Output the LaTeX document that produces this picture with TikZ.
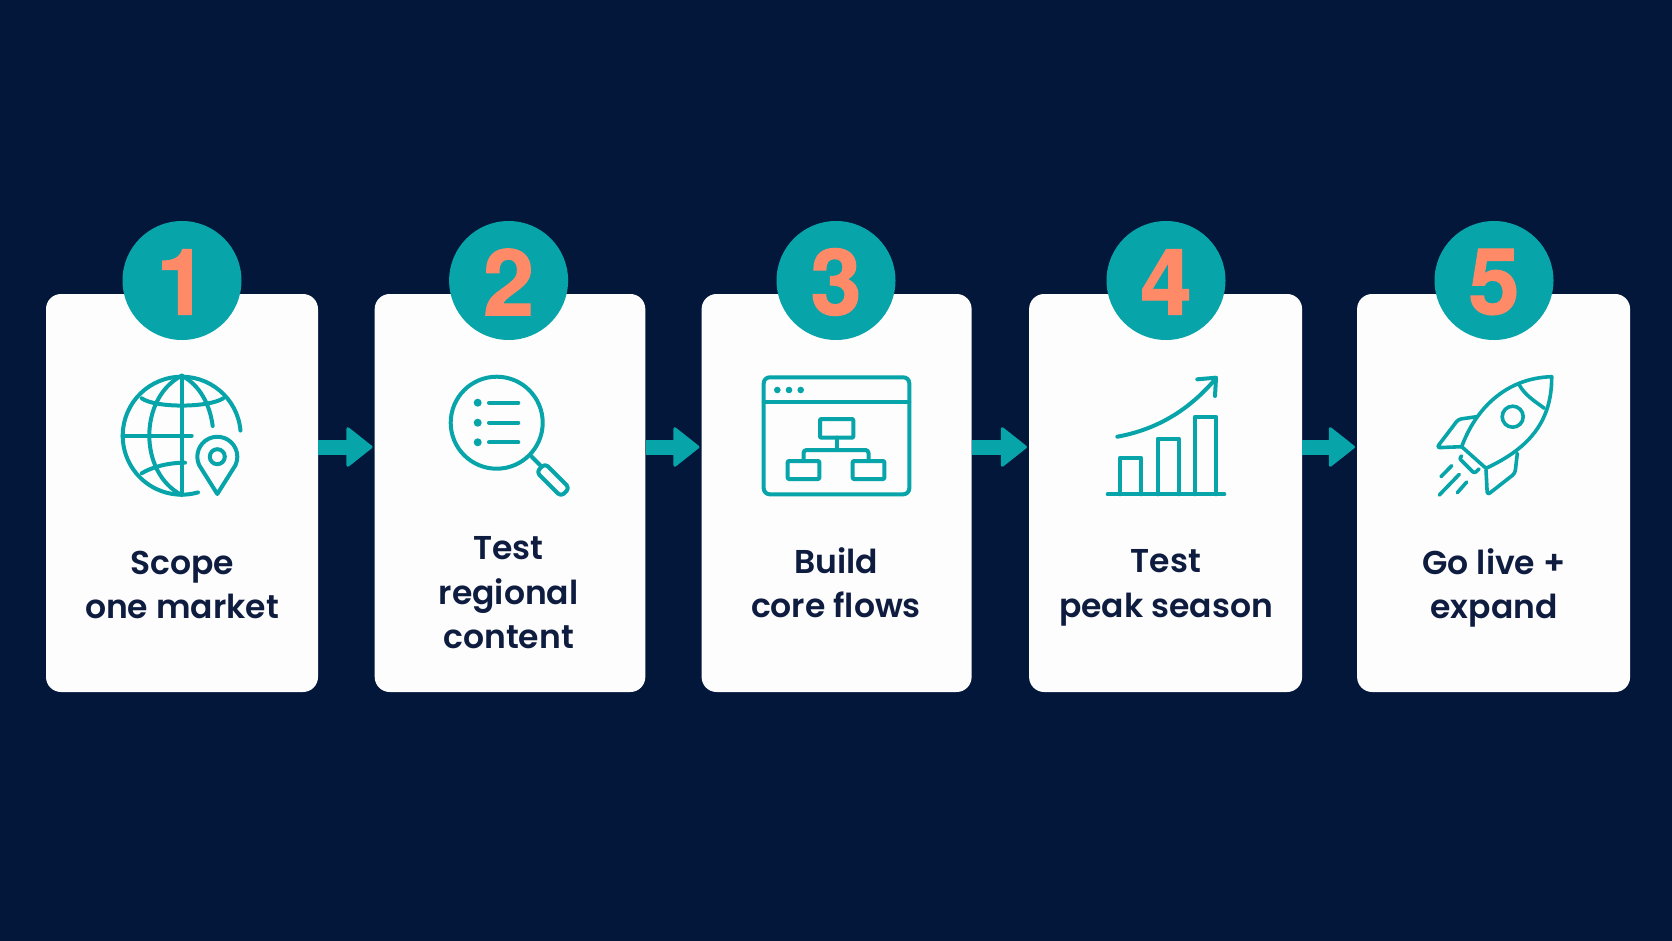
\documentclass[tikz,border=0pt]{standalone}
\usepackage{fontspec}
\usepackage{xcolor}
\usetikzlibrary{arrows.meta}
\setmainfont{Poppins}[UprightFont=* SemiBold]
\newfontfamily\digitfont{TeX Gyre Heros}[UprightFont=* Bold,FakeBold=1.2]
\definecolor{navybg}{HTML}{02173A}
\definecolor{tealmain}{HTML}{07A4A9}
\definecolor{coral}{HTML}{FF8A68}
\definecolor{inkblue}{HTML}{0E1C40}
\definecolor{cardwhite}{HTML}{FDFDFD}
\begin{document}
\begin{tikzpicture}[x=1pt,y=-1pt]

\tikzset{
  % one white panel per step
  card/.style={fill=cardwhite,rounded corners=15pt,minimum height=398pt,inner sep=0pt},
  badge/.style={circle,fill=tealmain,text=coral,minimum size=119pt,inner sep=0pt},
  numeral/.style={text=coral,inner sep=0pt,font=\digitfont\fontsize{92}{92}\selectfont},
  caption/.style={align=center,text=inkblue,inner sep=0pt,font=\fontsize{33}{44.4}\selectfont},
  icon/.style={draw=tealmain,line width=4pt,line cap=round,line join=round},
  thinicon/.style={icon,line width=3.6pt},
  dot/.style={fill=tealmain},
  flow/.style={draw=tealmain,line width=15pt,shorten >=2pt,-{Triangle[length=27pt,width=42pt,line width=3pt,round]}},
}
\fill[navybg] (0,0) rectangle (1672,941);
\useasboundingbox (0,0) rectangle (1672,941);

\path (182,493) node[card,minimum width=272pt] (card1) {}
      (510,493) node[card,minimum width=270.6pt] (card2) {}
      (836.6,493) node[card,minimum width=270pt] (card3) {}
      (1165.6,493) node[card,minimum width=273pt] (card4) {}
      (1493.6,493) node[card,minimum width=273pt] (card5) {};
\path (182,280.5) node[badge] (badge1) {}
      (508.6,280.5) node[badge] (badge2) {}
      (836,280.5) node[badge] (badge3) {}
      (1166,280.5) node[badge] (badge4) {}
      (1494,280.5) node[badge] (badge5) {};
\path (182,282) node[numeral] (num1) {1}
      (508.6,282) node[numeral] (num2) {2}
      (836,282) node[numeral] (num3) {3}
      (1166,282) node[numeral] (num4) {4}
      (1494,282) node[numeral] (num5) {5};
\path (182,585) node[caption] (text1) {Scope\\one market}
      (508.6,593) node[caption] (text2) {Test\\regional\\content}
      (836,583) node[caption] (text3) {Build\\core flows}
      (1166,588) node[caption] (text4) {Test\\peak season}
      (1494,588) node[caption] (text5) {Go live +\\expand};

\draw[flow] ([yshift=46pt]card1.east) -- ([yshift=46pt]card2.west);
\draw[flow] ([yshift=46pt]card2.east) -- ([yshift=46pt]card3.west);
\draw[flow] ([yshift=46pt]card3.east) -- ([yshift=46pt]card4.west);
\draw[flow] ([yshift=46pt]card4.east) -- ([yshift=46pt]card5.west);

% globe and pin
\draw[icon] (181.7,435.7) ++(-5:59) arc[start angle=-5,end angle=-286,radius=59];
\draw[icon] (181.7,375.7) -- (181.7,494);
\draw[icon] (122.7,435.7) -- (191.7,435.7);
\draw[icon] (181.7,375.7) .. controls (138.5,398) and (138.5,473) .. (181.7,495);
\draw[icon] (181.7,375.7) .. controls (200,385) and (210,405) .. (212.7,426);
\draw[icon] (141.7,398.3) .. controls (155,408) and (208,408) .. (223.3,398.3);
\draw[icon] (141.7,473.3) .. controls (152,467) and (168,462.7) .. (185,462.7);
\draw[icon] (217.3,494) -- (199.2,465.2) arc[start angle=-205,end angle=25,radius=20] -- cycle;
\draw[icon] (217.3,456.7) circle[radius=7.5];

% magnifier
\draw[icon] (496.7,422.7) circle[radius=46];
\fill[dot] (477.7,402.7) circle[radius=4] (477.7,422.7) circle[radius=4] (477.7,442.3) circle[radius=4];
\draw[icon] (489,402.7) -- (518.3,402.7) (489,422.7) -- (518.3,422.7) (489,442.3) -- (518.3,442.3);
\draw[icon] (531.7,456.7) -- (540,465);
\draw[icon,rounded corners=4pt] (545,463.5) -- (569.5,488) -- (561,496.5) -- (536.5,472) -- cycle;

% browser window
\draw[icon,rounded corners=6pt] (763.7,377.3) rectangle (909.3,494.3);
\draw[icon] (763.7,402.3) -- (909.3,402.3);
\fill[dot] (777.3,390) circle[radius=3.3] (789,390) circle[radius=3.3] (800.7,390) circle[radius=3.3];
\draw[icon,rounded corners=1pt] (820,419) rectangle (853.3,437.7);
\draw[icon,rounded corners=1pt] (787.7,461) rectangle (819.3,479);
\draw[icon,rounded corners=1pt] (852.7,461) rectangle (884.3,479);
\draw[icon] (836.7,437.7) -- (836.7,450);
\draw[icon,rounded corners=3pt] (803.5,461) -- (803.5,450) -- (868.5,450) -- (868.5,461);

% bars
\draw[icon] (1107.7,494.3) -- (1224.3,494.3);
\draw[icon] (1120,494.3) -- (1120,457.7) -- (1141,457.7) -- (1141,494.3);
\draw[icon] (1157.7,494.3) -- (1157.7,438.7) -- (1179,438.7) -- (1179,494.3);
\draw[icon] (1195,494.3) -- (1195,416.7) -- (1216,416.7) -- (1216,494.3);
\draw[icon] (1117.3,436.7) .. controls (1165,428) and (1195,403) .. (1216,378.3);
\draw[icon] (1197.3,379.3) -- (1216,377.7) -- (1215,396);

% rocket
\draw[thinicon] (1461.7,446.7) .. controls (1475,410) and (1505,378) .. (1551.7,376.7)
   .. controls (1552,425) and (1525,450) .. (1486,468.3) -- cycle;
\draw[thinicon] (1519.3,385) .. controls (1525,395) and (1533,400) .. (1544.3,408.3);
\draw[thinicon] (1512.7,416.7) circle[radius=10.5];
\draw[thinicon,rounded corners=3pt] (1476.7,416.7) -- (1458.3,419.3) -- (1436.7,447.7) -- (1461.7,446.7);
\draw[thinicon,rounded corners=3pt] (1517.3,453.3) -- (1515,473.3) -- (1487.3,495) -- (1486,470);
\draw[thinicon,rounded corners=2pt] (1461.7,456) -- (1459.3,458.3) -- (1474.3,473.3) -- (1479,469);
\draw[thinicon] (1451.7,465.7) -- (1441,476.7) (1459.3,474.3) -- (1439.3,495) (1466.7,482) -- (1457.3,492.7);

\end{tikzpicture}
\end{document}
